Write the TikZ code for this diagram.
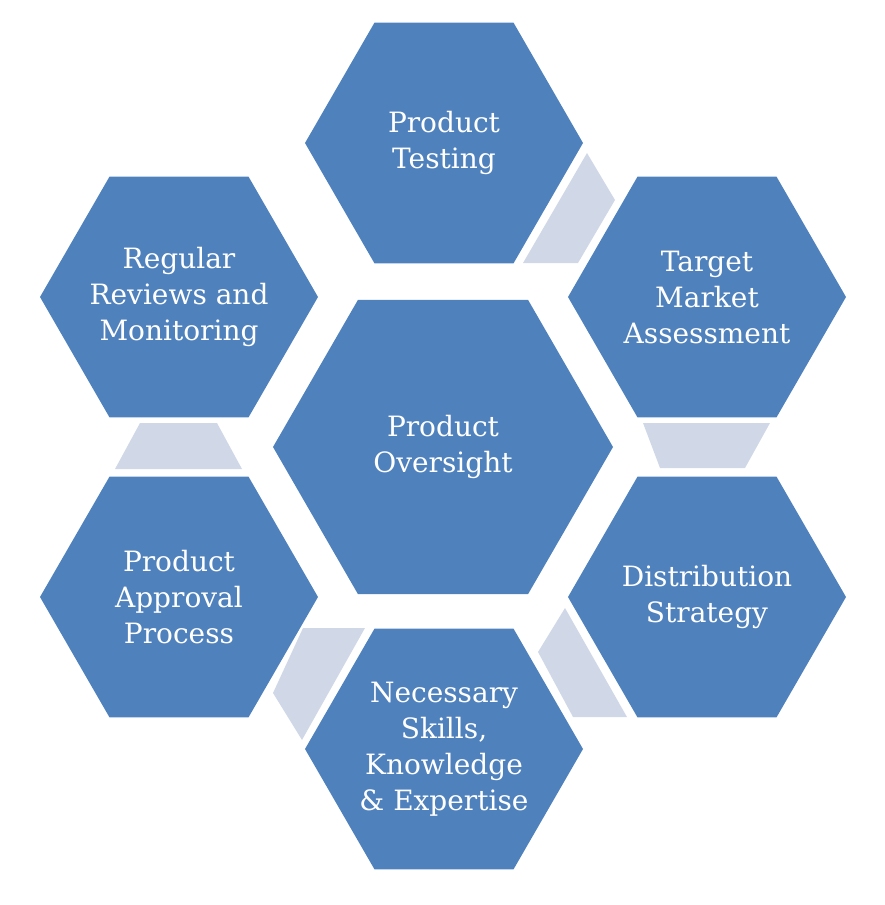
\documentclass[tikz,border=0pt]{standalone}
\usepackage{fontspec}
\setmainfont{DejaVu Serif}
\usetikzlibrary{shapes.geometric}
\definecolor{hexblue}{RGB}{79,129,189}
\definecolor{linkgray}{RGB}{208,216,232}

\begin{document}
\begin{tikzpicture}[x=1pt,y=-1pt,% pixel grid, y going down
			hexbox/.style={
				regular polygon,regular polygon sides=6,	% flat top and bottom
				fill=hexblue,inner sep=0pt,minimum size=278pt
			},
			hextext/.style={
				align=center,text=white,
				font=\fontsize{28}{36}\selectfont
			},
			link/.style={fill=linkgray}
		]
		\useasboundingbox (0,0) rectangle (885,905);
		% hexagons
		\node[hexbox,minimum size=340pt](PO) at (443,447){};
		\node[hexbox](PT) at (444,143){};
		\node[hexbox](TM) at (707,297){};
		\node[hexbox](DS) at (707,597){};
		\node[hexbox](NS) at (444,749){};
		\node[hexbox](PA) at (179,597){};
		\node[hexbox](RR) at (179,297){};
		% texts
		\node[hextext](POt) at (PO){Product\\Oversight};
		\node[hextext](PTt) at (PT){Product\\Testing};
		\node[hextext](TMt) at (TM){Target\\Market\\Assessment};
		\node[hextext](DSt) at (DS){Distribution\\Strategy};
		\node[hextext](NSt) at (NS){Necessary\\Skills,\\Knowledge\\\& Expertise};
		\node[hextext](PAt) at (PA){Product\\Approval\\Process};
		\node[hextext](RRt) at (RR){Regular\\Reviews and\\Monitoring};
		% links between neighbours
		\fill[link] (587,153) -- (615,200) -- (578,263) -- (523,263) -- cycle;
		\fill[link] (643,423) -- (770,423) -- (745,468) -- (660,468) -- cycle;
		\fill[link] (565,608) -- (538,652) -- (573,717) -- (627,717) -- cycle;
		\fill[link] (303,628) -- (365,628) -- (302,740) -- (273,693) -- cycle;
		\fill[link] (140,423) -- (217,423) -- (242,469) -- (115,469) -- cycle;
	\end{tikzpicture}
\end{document}
